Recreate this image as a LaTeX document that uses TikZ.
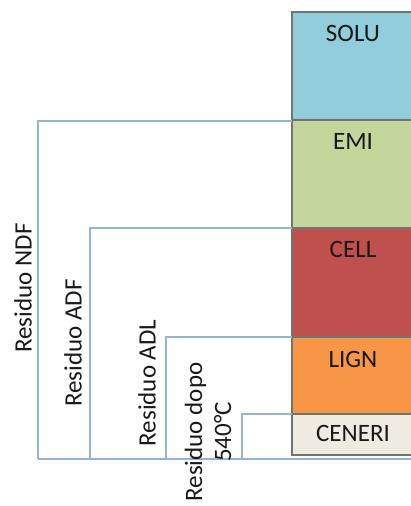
\documentclass[tikz,border=0pt]{standalone}
\usepackage{fontspec}
\setmainfont{Carlito}
\begin{document}
\begin{tikzpicture}[x=1pt,y=-1pt,
  layer/.style={draw=black!55,line width=1.2pt},
  lab/.style={font=\fontsize{25}{27}\selectfont,text=black!90,anchor=base,inner sep=0pt},
  bracket/.style={line width=1.3pt,color={rgb,255:red,149;green,179;blue,215}},
  side/.style={font=\fontsize{25}{29}\selectfont,text=black!90,rotate=90,inner sep=0pt,align=center}]
\useasboundingbox (0,0) rectangle (411,506);
% layered composition bar
\definecolor{csolu}{RGB}{146,205,220}
\definecolor{cemi}{RGB}{195,214,155}
\definecolor{ccell}{RGB}{192,80,77}
\definecolor{clign}{RGB}{247,150,70}
\definecolor{ceneri}{RGB}{238,236,225}
\fill[csolu] (292,12) rectangle (414,120);
\fill[cemi] (292,120) rectangle (414,228);
\fill[ccell] (292,228) rectangle (414,337);
\fill[clign] (292,337) rectangle (414,414);
\fill[ceneri] (292,414) rectangle (414,455);
\draw[layer] (414,12) -- (292,12) -- (292,455) -- (414,455);
\foreach \yy in {120,228,337,414} \draw[layer] (292,\yy) -- (414,\yy);
\node[lab] (solu) at (353,41) {SOLU};
\node[lab] (emi) at (353,149) {EMI};
\node[lab] (cell) at (353,257) {CELL};
\node[lab] (lign) at (353,367) {LIGN};
\node[lab] (ceneri) at (353,441) {CENERI};
% fraction brackets
\coordinate (base) at (38,459);
\coordinate (baseR) at (414,459);
\coordinate (ndfT) at (292,121);
\coordinate (adfT) at (292,228);
\coordinate (adlT) at (292,337);
\coordinate (ashT) at (292,414);
\draw[bracket] (base) -- (baseR);
\draw[bracket] (ndfT) -- (38,121) -- (38,459);
\draw[bracket] (adfT) -- (90,228) -- (90,459);
\draw[bracket] (adlT) -- (166,337) -- (166,459);
\draw[bracket] (ashT) -- (242,414) -- (242,459);
\node[side] (ndf) at (23,288) {Residuo NDF};
\node[side] (adf) at (73,343) {Residuo ADF};
\node[side] (adl) at (147,383) {Residuo ADL};
\node[side] (ash) at (208,432) {Residuo dopo\\540°C};
\end{tikzpicture}
\end{document}
